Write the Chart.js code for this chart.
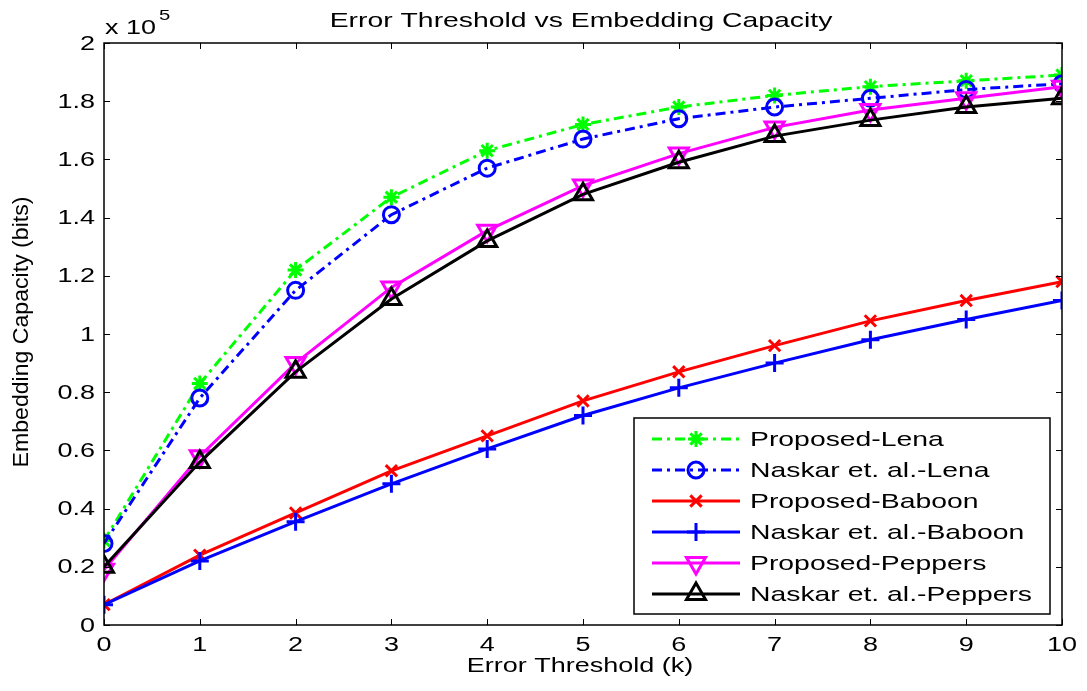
<!DOCTYPE html>
<html>
<head>
<meta charset="utf-8">
<script src="https://cdn.jsdelivr.net/npm/chart.js@4.4.0/dist/chart.umd.min.js"></script>
<style>
  html, body { margin: 0; background: #fff; }
  #wrap { width: 1087px; height: 691px; }
</style>
</head>
<body>
<div id="wrap"><canvas id="chart"></canvas></div>
<script>
// Data (values in units of 10^5 bits)
const thresholds = [0, 1, 2, 3, 4, 5, 6, 7, 8, 9, 10];
const yTicks = [0, 0.2, 0.4, 0.6, 0.8, 1, 1.2, 1.4, 1.6, 1.8, 2];
const proposedLena    = [0.29, 0.83, 1.22, 1.47, 1.63, 1.72, 1.78, 1.82, 1.85, 1.87, 1.89];
const naskarLena      = [0.28, 0.78, 1.15, 1.41, 1.57, 1.67, 1.74, 1.78, 1.81, 1.84, 1.86];
const proposedBaboon  = [0.07, 0.24, 0.385, 0.53, 0.65, 0.77, 0.87, 0.96, 1.045, 1.115, 1.18];
const naskarBaboon    = [0.07, 0.22, 0.355, 0.485, 0.605, 0.72, 0.815, 0.90, 0.98, 1.05, 1.115];
const proposedPeppers = [0.19, 0.58, 0.90, 1.16, 1.355, 1.51, 1.62, 1.71, 1.77, 1.81, 1.85];
const naskarPeppers   = [0.20, 0.56, 0.87, 1.12, 1.32, 1.48, 1.59, 1.68, 1.735, 1.78, 1.81];
const seriesNames = ['Proposed-Lena', 'Naskar et. al.-Lena', 'Proposed-Baboon',
                     'Naskar et. al.-Baboon', 'Proposed-Peppers', 'Naskar et. al.-Peppers'];

const FONT = 'Arial, "Liberation Sans", sans-serif';
const SX = 1.35;  // the original figure's text is stretched horizontally
const dashDot = [10, 5, 3, 5];

function series(label, values, color, style, radius, dash, rotation) {
    return {
        label: label,
        data: thresholds.map((x, i) => ({ x: x, y: values[i] })),
        borderColor: color,
        backgroundColor: 'rgba(0,0,0,0)',
        borderWidth: 3,
        borderDash: dash || [],
        pointStyle: style,
        pointRadius: radius,
        pointBorderWidth: 3,
        pointBorderColor: color,
        pointBackgroundColor: 'rgba(0,0,0,0)',
        pointRotation: rotation || 0,
        tension: 0
    };
}

const datasets = [
    series(seriesNames[0], proposedLena, '#00ff00', 'star', 8, dashDot),
    series(seriesNames[1], naskarLena, '#0000ff', 'circle', 8, dashDot),
    series(seriesNames[2], proposedBaboon, '#ff0000', 'crossRot', 8),
    series(seriesNames[3], naskarBaboon, '#0000ff', 'cross', 9),
    series(seriesNames[4], proposedPeppers, '#ff00ff', 'triangle', 11, null, 180),
    series(seriesNames[5], naskarPeppers, '#000000', 'triangle', 11)
];
// later series drawn on top, like MATLAB
datasets.forEach((d, i) => { d.order = datasets.length - i; });

function text(ctx, str, x, y, size, align, sx) {
    ctx.save();
    ctx.font = size + 'px ' + FONT;
    ctx.textAlign = align;
    ctx.textBaseline = 'middle';
    ctx.translate(x, y);
    ctx.scale(sx || SX, 1);
    ctx.fillText(str, 0, 0);
    ctx.restore();
}

// Box, inward ticks, labels, title, exponent and legend
const matlabDecor = {
    id: 'matlabDecor',
    afterDraw(chart) {
        const ctx = chart.ctx;
        const a = chart.chartArea;
        const xs = chart.scales.x, ys = chart.scales.y;
        ctx.save();
        ctx.strokeStyle = '#000';
        ctx.lineWidth = 1.5;
        ctx.strokeRect(a.left, a.top, a.right - a.left, a.bottom - a.top);
        ctx.lineWidth = 1;
        ctx.beginPath();
        thresholds.forEach(t => {
            const px = Math.round(xs.getPixelForValue(t)) + 0.5;
            ctx.moveTo(px, a.bottom); ctx.lineTo(px, a.bottom - 6);
            ctx.moveTo(px, a.top); ctx.lineTo(px, a.top + 6);
        });
        yTicks.forEach(v => {
            const py = Math.round(ys.getPixelForValue(v)) + 0.5;
            ctx.moveTo(a.left, py); ctx.lineTo(a.left + 6, py);
            ctx.moveTo(a.right, py); ctx.lineTo(a.right - 6, py);
        });
        ctx.stroke();

        ctx.fillStyle = '#000';
        // tick labels
        thresholds.forEach(t => text(ctx, String(t), xs.getPixelForValue(t), 645, 20, 'center'));
        yTicks.forEach(v => text(ctx, String(v), 95, ys.getPixelForValue(v) + 1, 20, 'right'));

        // titles
        text(ctx, 'Error Threshold vs Embedding Capacity', 581, 21, 21, 'center');
        text(ctx, 'Error Threshold (k)', 580, 666, 20, 'center');
        ctx.save();
        ctx.translate(22, 332);
        ctx.rotate(-Math.PI / 2);
        text(ctx, 'Embedding Capacity (bits)', 0, 0, 22, 'center', 1.05);
        ctx.restore();

        // exponent label
        text(ctx, 'x 10', 105, 28, 20, 'left');
        text(ctx, '5', 159, 16, 15, 'left');

        // legend
        const lx = 634, ly = 418, lw = 416, lh = 196;
        ctx.fillStyle = '#fff';
        ctx.fillRect(lx, ly, lw, lh);
        ctx.lineWidth = 1.5;
        ctx.strokeStyle = '#000';
        ctx.strokeRect(lx, ly, lw, lh);
        chart.data.datasets.forEach((d, i) => {
            const y = 439 + i * 31;
            ctx.save();
            ctx.strokeStyle = d.borderColor;
            ctx.lineWidth = d.borderWidth;
            ctx.setLineDash(d.borderDash);
            ctx.beginPath();
            ctx.moveTo(652, y); ctx.lineTo(740, y);
            ctx.stroke();
            ctx.setLineDash([]);
            ctx.lineWidth = d.pointBorderWidth;
            ctx.fillStyle = 'rgba(0,0,0,0)';
            Chart.helpers.drawPoint(ctx, {
                pointStyle: d.pointStyle, radius: d.pointRadius,
                rotation: d.pointRotation, borderWidth: d.pointBorderWidth
            }, 696, y);
            ctx.restore();
            ctx.fillStyle = '#000';
            text(ctx, d.label, 750, y + 1, 21, 'left');
        });
        ctx.restore();
    }
};

new Chart(document.getElementById('chart'), {
    type: 'line',
    data: { datasets: datasets },
    options: {
        responsive: true,
        maintainAspectRatio: false,
        animation: false,
        layout: { padding: { left: 0, right: 25, top: 43, bottom: 0 } },
        plugins: {
            legend: { display: false },
            tooltip: { enabled: false }
        },
        scales: {
            x: {
                type: 'linear',
                min: 0, max: 10,
                afterFit: s => { s.height = 66; },
                ticks: { display: false, stepSize: 1 },
                grid: { display: false, drawTicks: false },
                border: { display: false }
            },
            y: {
                min: 0, max: 2,
                afterFit: s => { s.width = 104; },
                ticks: { display: false, stepSize: 0.2 },
                grid: { display: false, drawTicks: false },
                border: { display: false }
            }
        }
    },
    plugins: [matlabDecor]
});
</script>
</body>
</html>
